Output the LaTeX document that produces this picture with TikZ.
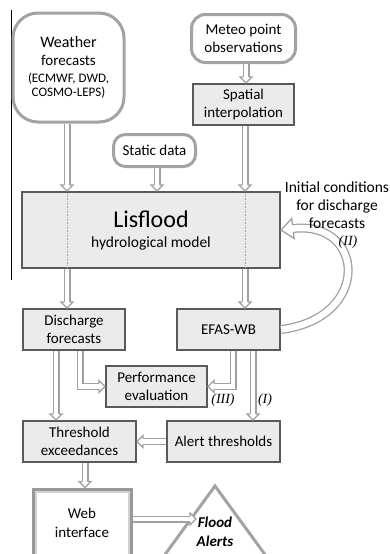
\documentclass[tikz,border=0pt]{standalone}
\usepackage{fontspec}
\setmainfont{Carlito}
\newfontfamily\serifit{Liberation Serif}
\usetikzlibrary{decorations.markings}

\definecolor{roundline}{HTML}{A3A3A3}
\definecolor{boxline}{HTML}{5A5A5A}
\definecolor{boxfill}{HTML}{EBEBEB}
\definecolor{arrowline}{HTML}{A0A0A0}
\definecolor{weboutline}{HTML}{999999}
\definecolor{webinline}{HTML}{D2D2D2}

\tikzset{
  txt/.style={font=\fontsize{15}{18}\selectfont, align=center, text=black},
  rbox/.style={txt, draw=roundline, line width=3pt, fill=white, inner sep=2pt},
  sbox/.style={txt, draw=boxline, line width=2pt, fill=boxfill, inner sep=2pt},
  % hollow connector: grey outline, white core, open triangular head
  harrow/.style={
    preaction={draw=arrowline, line width=7pt, shorten >=6pt},
    postaction={draw=white, line width=4.6pt, shorten >=6pt},
    postaction={decorate, decoration={markings, mark=at position 1 with {
      \path[draw=arrowline, fill=white, line width=1.2pt, line join=miter]
        (-6pt,2.9pt) -- (-6pt,6pt) -- (0pt,0pt) -- (-6pt,-6pt) -- (-6pt,-2.9pt);}}}},
  harrowbig/.style={
    preaction={draw=arrowline, line width=9pt, shorten >=12pt},
    postaction={draw=white, line width=6.4pt, shorten >=12pt},
    postaction={decorate, decoration={markings, mark=at position 0.9999 with {
      \path[draw=arrowline, fill=white, line width=1.3pt, line join=miter]
        (-12pt,3.85pt) -- (-12pt,10pt) -- (0pt,0pt) -- (-12pt,-10pt) -- (-12pt,-3.85pt);}}}},
  dotline/.style={draw=black!35, densely dotted, line width=0.6pt},
  note/.style={font=\fontsize{15.5}{18}\selectfont, align=center, text=black},
  tag/.style={font=\serifit\itshape\fontsize{14}{16}\selectfont, text=black},
}

\begin{document}
\begin{tikzpicture}[x=1pt, y=-1pt]
\clip (0,0) rectangle (390,554);
\fill[white] (0,0) rectangle (390,554);

% margin rule
\draw[black, line width=1pt] (11,10) -- (11,280);

% inputs
\node[rbox, rounded corners=25pt, minimum width=111pt, minimum height=109pt] (wf) at (68.5,67.5)
  {\fontsize{16}{20}\selectfont Weather\\forecasts\\[-1pt]{\fontsize{13}{16}\selectfont (ECMWF, DWD,}\\[-4pt]{\fontsize{13}{16}\selectfont COSMO-LEPS)}};
\node[rbox, rounded corners=14pt, minimum width=104pt, minimum height=48pt] (met) at (243.5,38.5)
  {Meteo point\\observations};
\node[rbox, rounded corners=12pt, minimum width=82pt, minimum height=32pt] (st) at (154.5,150.5)
  {Static data};
\node[sbox, minimum width=101pt, minimum height=41pt] (sp) at (243.5,104.5)
  {Spatial\\interpolation};

% model
\node[sbox, minimum width=258pt, minimum height=76pt] (lis) at (151,230)
  {\fontsize{24}{26}\selectfont Lisflood\\[2pt]{\fontsize{15.5}{18}\selectfont hydrological model}};

% outputs
\node[sbox, minimum width=102pt, minimum height=41pt] (dis) at (74,329.5) {Discharge\\forecasts};
\node[sbox, minimum width=103pt, minimum height=41pt] (efas) at (228.5,329.5) {EFAS-WB};
\node[sbox, minimum width=101pt, minimum height=41pt] (perf) at (156.5,386.5) {Performance\\evaluation};
\node[sbox, minimum width=113pt, minimum height=41pt] (thr) at (79.5,441.5) {Threshold\\exceedances};
\node[sbox, minimum width=113pt, minimum height=41pt] (al) at (223.5,441.5) {Alert thresholds};

% web interface
\node[draw=weboutline, line width=5pt, fill=white, minimum width=96pt, minimum height=75pt] (web) at (82,527.5) {};
\draw[webinline, line width=2pt] ([xshift=4pt,yshift=-4pt]web.north west) rectangle ([xshift=-4pt,yshift=4pt]web.south east);
\node[txt, font=\fontsize{15}{19}\selectfont] (webt) at (82,522.5) {Web\\interface};

% flood alerts triangle
\draw[draw=roundline, line width=3pt, fill=white, line join=miter] (215,486) -- (161,560) -- (269,560) -- cycle;
\node[txt, font=\bfseries\itshape\fontsize{15}{19}\selectfont] (fa) at (215,531.5) {Flood\\Alerts};
\coordinate (ftip) at (196,519);

% dotted guides through the model box
\draw[dotline] ([yshift=-2pt]67,0 |- lis.north) -- ([yshift=2pt]67,0 |- lis.south);
\draw[dotline] ([yshift=-2pt]245,0 |- lis.north) -- ([yshift=2pt]245,0 |- lis.south);

% connectors
\path[harrow] (67,0 |- wf.south) -- (67,0 |- lis.north);
\path[harrow] (157,0 |- st.south) -- (157,0 |- lis.north);
\path[harrow] (246,0 |- met.south) -- (246,0 |- sp.north);
\path[harrow] (245,0 |- sp.south) -- (245,0 |- lis.north);
\path[harrow] (67,0 |- lis.south) -- (67,0 |- dis.north);
\path[harrow] (245,0 |- lis.south) -- (245,0 |- efas.north);
\path[harrow] (80,0 |- dis.south) |- (perf.west);
\path[harrow] (233,0 |- efas.south) |- (perf.east);
\path[harrow] (253,0 |- efas.south) -- (253,0 |- al.north);
\path[harrow] (56,0 |- dis.south) -- (56,0 |- thr.north);
\path[harrow] (al.west) -- (thr.east);
\path[harrow] (85,0 |- thr.south) -- (85,0 |- web.north);
\path[harrow] (web.east |- ftip) -- (ftip);
\path[harrowbig] (efas.east) .. controls (372,318) and (365,220) .. (lis.east);

% labels
\node[note] (ic) at (337,205) {Initial conditions\\for discharge\\forecasts};
\node[tag] (t2) at (348,242) {(II)};
\node[tag] (t3) at (223,400) {(III)};
\node[tag] (t1) at (265,400) {(I)};
\end{tikzpicture}
\end{document}
